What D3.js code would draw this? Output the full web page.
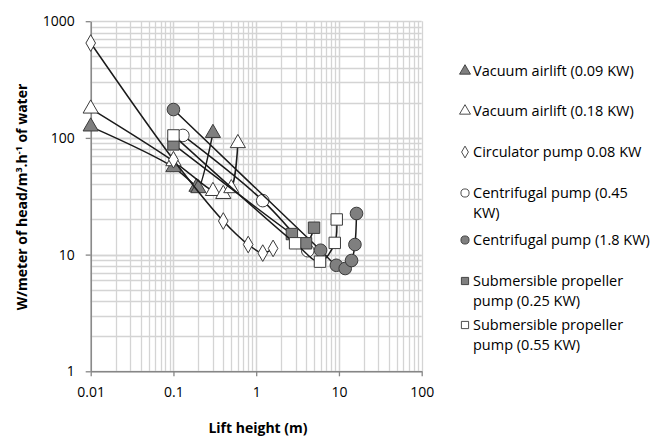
<!DOCTYPE html>
<html lang="en">
    <head>
        <meta charset="utf-8">
        <title>Lift height vs power per head</title>
        <script src="https://d3js.org/d3.v7.min.js"></script>
        <style type="text/css">
         body { margin: 0; background: #fff; }
         text { font-family: "Open Sans", "Liberation Sans", sans-serif; fill: #000; }
        </style>
    </head>
    <body>
        <script type="text/javascript">
         //Width and height
         var width = 653;
         var height = 437;

         //Data (lift height in m, W per m head per m3/h)
         var seriesNames = ["Vacuum airlift (0.09 KW)", "Vacuum airlift (0.18 KW)", "Circulator pump 0.08 KW",
                            "Centrifugal pump (0.45 KW)", "Centrifugal pump (1.8 KW)",
                            "Submersible propeller pump (0.25 KW)", "Submersible propeller pump (0.55 KW)"];
         var airlift09X = [0.01, 0.1, 0.19, 0.2, 0.3];
         var airlift09Y = [125, 56, 38, 37, 110];
         var airlift18X = [0.01, 0.1, 0.3, 0.4, 0.5, 0.6];
         var airlift18Y = [178, 63, 35, 33, 37, 90];
         var circX = [0.01, 0.1, 0.4, 0.8, 1.2, 1.6];
         var circY = [650, 65, 19.4, 12.2, 10.3, 11.3];
         var centri45X = [0.13, 1.2, 4.2];
         var centri45Y = [105, 29, 10.8];
         var centri18X = [0.1, 6, 9.3, 11.9, 14.2, 15.6, 16.3];
         var centri18Y = [175, 10.9, 8.1, 7.6, 8.9, 12.2, 22.5];
         var sub25X = [0.1, 2.7, 4, 5];
         var sub25Y = [88, 15, 12.5, 17];
         var sub55X = [0.1, 2.95, 5.9, 8.9, 9.4];
         var sub55Y = [105, 12.5, 8.7, 12.6, 20];

         var xTicks = [0.01, 0.1, 1, 10, 100];
         var xTickLabels = ["0.01", "0.1", "1", "10", "100"];
         var yTicks = [1, 10, 100, 1000];
         var yTickLabels = ["1", "10", "100", "1000"];

         var series = [
             {x: airlift09X, y: airlift09Y, shape: "tri", fill: "#7f7f7f"},
             {x: airlift18X, y: airlift18Y, shape: "tri", fill: "#fff"},
             {x: circX, y: circY, shape: "dia", fill: "#fff"},
             {x: centri45X, y: centri45Y, shape: "circ", fill: "#fff"},
             {x: centri18X, y: centri18Y, shape: "circ", fill: "#7f7f7f"},
             {x: sub25X, y: sub25Y, shape: "sq", fill: "#7f7f7f"},
             {x: sub55X, y: sub55Y, shape: "sq", fill: "#fff"}
         ];

         //Scales
         var x = d3.scaleLog().domain([0.01, 100]).range([90.7, 421.7]);
         var y = d3.scaleLog().domain([1, 1000]).range([371.3, 21.2]);

         var svg = d3.select("body")
                     .append("svg")
                     .attr("width", width)
                     .attr("height", height);

         //Minor + major grid
         var gridX = [], gridY = [];
         [0.01, 0.1, 1, 10].forEach(function(d) {
             for (var k = 1; k <= 10; k++) gridX.push(d * k);
         });
         [1, 10, 100].forEach(function(d) {
             for (var k = 1; k <= 10; k++) gridY.push(d * k);
         });

         svg.append("g").selectAll("line")
            .data(gridX)
            .enter().append("line")
            .attr("x1", function(d) { return Math.round(x(d)) + 0.5; })
            .attr("x2", function(d) { return Math.round(x(d)) + 0.5; })
            .attr("y1", y(1000)).attr("y2", y(1))
            .attr("stroke", "#d4d4d4").attr("stroke-width", 1.3);

         svg.append("g").selectAll("line")
            .data(gridY)
            .enter().append("line")
            .attr("y1", function(d) { return Math.round(y(d)) + 0.5; })
            .attr("y2", function(d) { return Math.round(y(d)) + 0.5; })
            .attr("x1", x(0.01)).attr("x2", x(100))
            .attr("stroke", "#d4d4d4").attr("stroke-width", 1.3);

         //Axes
         var xAxis = d3.axisBottom(x).tickValues(xTicks)
                       .tickFormat(function(d, i) { return xTickLabels[i]; })
                       .tickSizeInner(5).tickSizeOuter(0).tickPadding(11);
         var yAxis = d3.axisLeft(y).tickValues(yTicks)
                       .tickFormat(function(d, i) { return yTickLabels[i]; })
                       .tickSizeInner(5).tickSizeOuter(0).tickPadding(11);

         var gx = svg.append("g").attr("transform", "translate(0," + y(1) + ")").call(xAxis);
         var gy = svg.append("g").attr("transform", "translate(" + x(0.01) + ",0)").call(yAxis);
         [gx, gy].forEach(function(g) {
             g.select(".domain").attr("stroke", "#868686").attr("stroke-width", 1.5);
             g.selectAll(".tick line").attr("stroke", "#868686").attr("stroke-width", 1.3);
             g.selectAll(".tick text").attr("font-size", 14)
              .attr("font-family", "'Open Sans', sans-serif").attr("fill", "#000");
         });

         //Series lines
         var line = d3.line()
                      .x(function(d) { return x(d[0]); })
                      .y(function(d) { return y(d[1]); })
                      .curve(d3.curveCatmullRom.alpha(0.5));

         function symbolPath(shape, s) {
             var type = {tri: d3.symbolTriangle, dia: d3.symbolDiamond, circ: d3.symbolCircle, sq: d3.symbolSquare}[shape];
             return d3.symbol().type(type).size(s)();
         }
         var markerSize = {tri: 100, dia: 80, circ: 125, sq: 130};

         series.forEach(function(s) {
             var pts = s.x.map(function(v, i) { return [v, s.y[i]]; });
             var g = svg.append("g");
             g.append("path")
              .attr("d", line(pts))
              .attr("fill", "none")
              .attr("stroke", "#1a1a1a")
              .attr("stroke-width", 1.5);
             g.selectAll("path.m")
              .data(pts)
              .enter().append("path")
              .attr("class", "m")
              .attr("d", symbolPath(s.shape, markerSize[s.shape]))
              .attr("transform", function(d) { return "translate(" + x(d[0]) + "," + y(d[1]) + ")"; })
              .attr("fill", s.fill)
              .attr("stroke", "#3a3a3a")
              .attr("stroke-width", 1);
         });

         //Legend
         var legendRows = [
             {lines: ["Vacuum airlift (0.09 KW)"], y: 76},
             {lines: ["Vacuum airlift (0.18 KW)"], y: 116},
             {lines: ["Circulator pump 0.08 KW"], y: 157},
             {lines: ["Centrifugal pump (0.45", "KW)"], y: 198},
             {lines: ["Centrifugal pump (1.8 KW)"], y: 245},
             {lines: ["Submersible propeller", "pump (0.25 KW)"], y: 286},
             {lines: ["Submersible propeller", "pump (0.55 KW)"], y: 330}
         ];
         var legend = svg.append("g");
         legendRows.forEach(function(r, i) {
             var s = series[i];
             legend.append("path")
                   .attr("d", symbolPath(s.shape, s.shape === "dia" ? 40 : 52))
                   .attr("transform", "translate(465," + (r.y - 5) + ")")
                   .attr("fill", s.fill)
                   .attr("stroke", "#3a3a3a")
                   .attr("stroke-width", 0.9);
             r.lines.forEach(function(t, j) {
                 legend.append("text")
                       .attr("x", 473)
                       .attr("y", r.y + j * 19.5)
                       .attr("font-size", 14.5)
                       .text(t);
             });
         });

         //Axis titles
         svg.append("text")
            .attr("x", 258).attr("y", 433)
            .attr("text-anchor", "middle")
            .attr("font-size", 14).attr("font-weight", "bold")
            .text("Lift height (m)");

         var yt = svg.append("text")
                     .attr("transform", "translate(27,197) rotate(-90)")
                     .attr("text-anchor", "middle")
                     .attr("font-size", 14).attr("font-weight", "bold");
         yt.append("tspan").text("W/meter of head/m");
         yt.append("tspan").attr("font-size", 9).attr("dy", -5).text("3");
         yt.append("tspan").attr("dy", 5).text(".h");
         yt.append("tspan").attr("font-size", 9).attr("dy", -5).text("-1");
         yt.append("tspan").attr("dy", 5).text(" of water");
        </script>
    </body>
</html>
